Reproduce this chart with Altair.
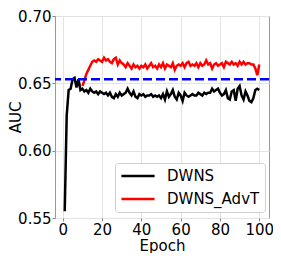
import altair as alt
import pandas as pd

epochs_dwns = list(range(1, 101))
auc_dwns = [
    0.555, 0.626, 0.645, 0.646, 0.653, 0.654, 0.647, 0.653, 0.645, 0.646,
    0.644, 0.645, 0.643, 0.646, 0.644, 0.643, 0.644, 0.642, 0.644, 0.643,
    0.642, 0.643, 0.641, 0.643, 0.640, 0.639, 0.642, 0.640, 0.643, 0.641,
    0.642, 0.643, 0.646, 0.643, 0.641, 0.644, 0.640, 0.639, 0.642, 0.641,
    0.642, 0.640, 0.641, 0.641, 0.642, 0.640, 0.641, 0.640, 0.641, 0.639,
    0.642, 0.638, 0.644, 0.640, 0.642, 0.645, 0.640, 0.638, 0.643, 0.641,
    0.637, 0.643, 0.641, 0.640, 0.641, 0.642, 0.641, 0.641, 0.643, 0.642,
    0.641, 0.643, 0.642, 0.643, 0.643, 0.646, 0.644, 0.645, 0.646, 0.643,
    0.641, 0.642, 0.645, 0.639, 0.638, 0.644, 0.645, 0.637, 0.646, 0.648,
    0.641, 0.638, 0.644, 0.641, 0.637, 0.636, 0.639, 0.645, 0.646, 0.645,
]

epochs_advt = list(range(10, 101))
auc_advt = [
    0.648,
    0.652, 0.657, 0.660, 0.663, 0.666, 0.667, 0.666, 0.668, 0.667, 0.666,
    0.669, 0.667, 0.668, 0.666, 0.665, 0.668, 0.669, 0.664, 0.667, 0.665,
    0.664, 0.662, 0.665, 0.663, 0.661, 0.664, 0.662, 0.663, 0.661, 0.663,
    0.662, 0.664, 0.661, 0.663, 0.665, 0.662, 0.663, 0.661, 0.664, 0.662,
    0.665, 0.661, 0.664, 0.663, 0.662, 0.665, 0.660, 0.663, 0.664, 0.663,
    0.665, 0.662, 0.665, 0.666, 0.663, 0.664, 0.663, 0.665, 0.662, 0.665,
    0.663, 0.664, 0.667, 0.664, 0.665, 0.661, 0.664, 0.665, 0.663, 0.664,
    0.665, 0.662, 0.666, 0.665, 0.664, 0.666, 0.664, 0.665, 0.663, 0.666,
    0.664, 0.666, 0.664, 0.665, 0.665, 0.664, 0.664, 0.661, 0.656, 0.664,
]

baseline_value = 0.653
series_names = ["DWNS", "DWNS_AdvT"]
series_colors = ["black", "red"]
x_ticks = [0, 20, 40, 60, 80, 100]
y_ticks = [0.55, 0.60, 0.65, 0.70]

df = pd.concat([
    pd.DataFrame({"epoch": epochs_dwns, "auc": auc_dwns, "series": "DWNS"}),
    pd.DataFrame({"epoch": epochs_advt, "auc": auc_advt, "series": "DWNS_AdvT"}),
])

y_scale = alt.Scale(domain=[0.55, 0.70], nice=False, zero=False)

x_enc = alt.X("epoch:Q", title="Epoch",
              scale=alt.Scale(domain=[-3.95, 104.95], nice=False, zero=False),
              axis=alt.Axis(values=x_ticks, format="d"))
y_enc = alt.Y("auc:Q", title="AUC", scale=y_scale,
              axis=alt.Axis(values=y_ticks, format=".2f",
                            titleX=-40, titleY=101, titleAngle=270,
                            titleAlign="center", titleBaseline="middle"))

lines = alt.Chart(df).mark_line(strokeWidth=2.5).encode(
    x=x_enc,
    y=y_enc,
    color=alt.Color("series:N",
                    scale=alt.Scale(domain=series_names, range=series_colors),
                    legend=alt.Legend(title=None, orient="none",
                                      legendX=60, legendY=147)),
)

rule = alt.Chart(pd.DataFrame({"b": [baseline_value]})).mark_rule(
    color="#0000ff", strokeWidth=2.5, strokeDash=[9, 4]
).encode(y=alt.Y("b:Q", title="AUC", scale=y_scale))

chart = alt.layer(lines, rule).properties(
    width=214, height=202,
    autosize=alt.AutoSizeParams(type="none"),
    padding={"left": 47, "top": 8, "right": 4, "bottom": 35},
).configure_view(
    stroke="#999", strokeWidth=1
).configure_axis(
    labelFont="DejaVu Sans", labelFontSize=15, labelColor="black",
    titleFont="DejaVu Sans", titleFontSize=15, titleFontWeight="normal",
    titleColor="black",
    grid=True, gridColor="#e3e3e3", gridWidth=1,
    domain=False, tickColor="#888", tickSize=3, labelPadding=1,
).configure_axisX(
    titlePadding=1,
).configure_legend(
    strokeColor="#d0d0d0", fillColor="white", cornerRadius=3, padding=5,
    symbolType="stroke", symbolStrokeWidth=2.5, symbolSize=1100,
    labelFont="DejaVu Sans", labelFontSize=15, labelColor="black",
    labelOffset=11, rowPadding=7, clipHeight=16,
)

chart.save("out.html", embed_options={"renderer": "svg", "actions": False})
